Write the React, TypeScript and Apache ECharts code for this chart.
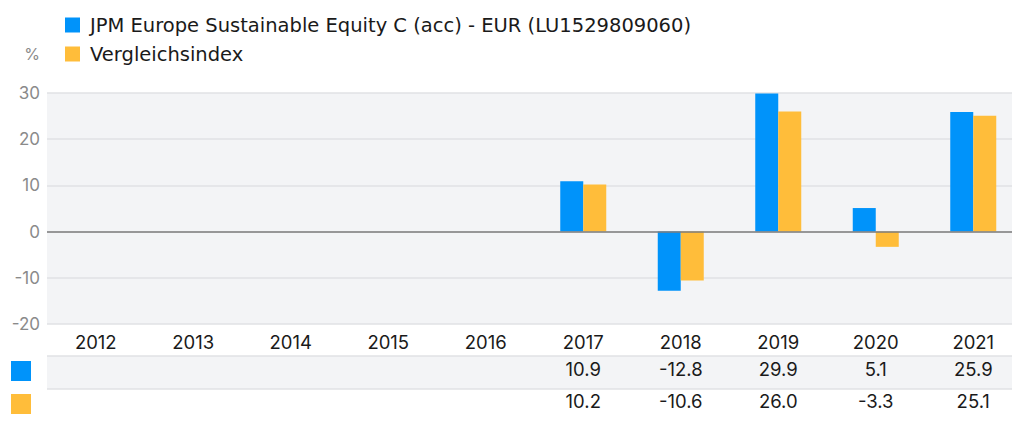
import React, { useEffect, useRef } from "react";
import * as echarts from "echarts";

const years = ["2012", "2013", "2014", "2015", "2016", "2017", "2018", "2019", "2020", "2021"];
const fundValues: (number | null)[] = [null, null, null, null, null, 10.9, -12.8, 29.9, 5.1, 25.9];
const indexValues: (number | null)[] = [null, null, null, null, null, 10.2, -10.6, 26.0, -3.3, 25.1];
const fundName = "JPM Europe Sustainable Equity C (acc) - EUR (LU1529809060)";
const indexName = "Vergleichsindex";
const yTicks = { min: -20, max: 30, interval: 10 };

const BLUE = "#0093fa";
const YELLOW = "#ffbd3a";
const FONT = "Inter, 'Noto Sans', sans-serif";
const LEGEND_FONT = "'DejaVu Sans', sans-serif";

const fmt = (v: number | null) => (v == null ? "" : v.toFixed(1));

export default function App() {
  const ref = useRef<HTMLDivElement>(null);
  useEffect(() => {
    if (!ref.current) return;
    const chart = echarts.init(ref.current, undefined, { renderer: "svg" });
    const gridLeft = 47;
    const gridTop = 93;
    const gridBottom = 97;
    const W = 1022;
    const tableAxis = (data: string[], offset: number, color: string) => ({
      type: "category",
      data,
      gridIndex: 0,
      position: "bottom",
      offset,
      axisLine: { show: false },
      axisTick: { show: false },
      splitLine: { show: false },
      axisLabel: {
        interval: 0,
        margin: 0,
        verticalAlign: "middle",
        fontFamily: FONT,
        fontSize: 18.5,
        color,
      },
    });
    chart.setOption({
      animation: false,
      textStyle: { fontFamily: FONT },
      grid: {
        left: gridLeft,
        right: 0,
        top: gridTop,
        bottom: gridBottom,
        show: true,
        backgroundColor: "#f3f4f6",
        borderWidth: 0,
        containLabel: false,
      },
      legend: {
        orient: "vertical",
        left: 60,
        top: 10,
        itemWidth: 15,
        itemHeight: 15,
        itemGap: 9,
        icon: "rect",
        textStyle: {
          fontFamily: LEGEND_FONT,
          fontSize: 19.5,
          color: "#1a1a1a",
          lineHeight: 18,
          padding: [0, 0, 0, 5],
        },
        data: [fundName, indexName],
      },
      graphic: [
        {
          type: "rect",
          z: -10,
          shape: { x: gridLeft, y: 356, width: W - gridLeft, height: 33 },
          style: { fill: "#f3f4f6" },
        },
        {
          type: "line",
          shape: { x1: gridLeft, y1: 356, x2: W, y2: 356 },
          style: { stroke: "#e1e2e5", lineWidth: 1.5 },
        },
        {
          type: "line",
          shape: { x1: gridLeft, y1: 389, x2: W, y2: 389 },
          style: { stroke: "#e1e2e5", lineWidth: 1.5 },
        },
        {
          type: "rect",
          shape: { x: 11, y: 361, width: 20, height: 20 },
          style: { fill: BLUE },
        },
        {
          type: "rect",
          shape: { x: 11, y: 394, width: 20, height: 20 },
          style: { fill: YELLOW },
        },
      ],
      xAxis: [
        {
          type: "category",
          data: years,
          axisLine: { show: false },
          axisTick: { show: false },
          splitLine: { show: false },
          axisLabel: {
            interval: 0,
            margin: 17.5,
            verticalAlign: "middle",
            fontFamily: FONT,
            fontSize: 18.5,
            color: "#1a1a1a",
          },
        },
        tableAxis(fundValues.map(fmt), 44.5, "#1a1a1a"),
        tableAxis(indexValues.map(fmt), 76.5, "#1a1a1a"),
      ],
      yAxis: {
        type: "value",
        min: yTicks.min,
        max: yTicks.max,
        interval: yTicks.interval,
        name: "%",
        nameLocation: "end",
        nameGap: 31,
        nameTextStyle: {
          align: "right",
          padding: [0, 7, 0, 0],
          fontFamily: FONT,
          fontSize: 16,
          color: "#8a8a8a",
        },
        axisLine: { show: false },
        axisTick: { show: false },
        axisLabel: { margin: 7, fontFamily: FONT, fontSize: 17, color: "#8a8a8a" },
        splitLine: { lineStyle: { color: "#e1e2e5", width: 1.5 } },
      },
      series: [
        {
          name: fundName,
          type: "bar",
          data: fundValues,
          barWidth: 23,
          barGap: "0%",
          itemStyle: { color: BLUE },
          markLine: {
            silent: true,
            symbol: "none",
            label: { show: false },
            lineStyle: { color: "#7d7d7d", width: 1.5, type: "solid" },
            data: [{ yAxis: 0 }],
          },
        },
        {
          name: indexName,
          type: "bar",
          data: indexValues,
          barWidth: 23,
          barGap: "0%",
          itemStyle: { color: YELLOW },
        },
      ],
    });
    return () => chart.dispose();
  }, []);
  return (
    <div
      style={{ position: "absolute", left: 0, top: 0, width: 1012, height: 421, overflow: "hidden", background: "#fff" }}
    >
      <div ref={ref} style={{ width: 1022, height: 421 }} />
    </div>
  );
}
